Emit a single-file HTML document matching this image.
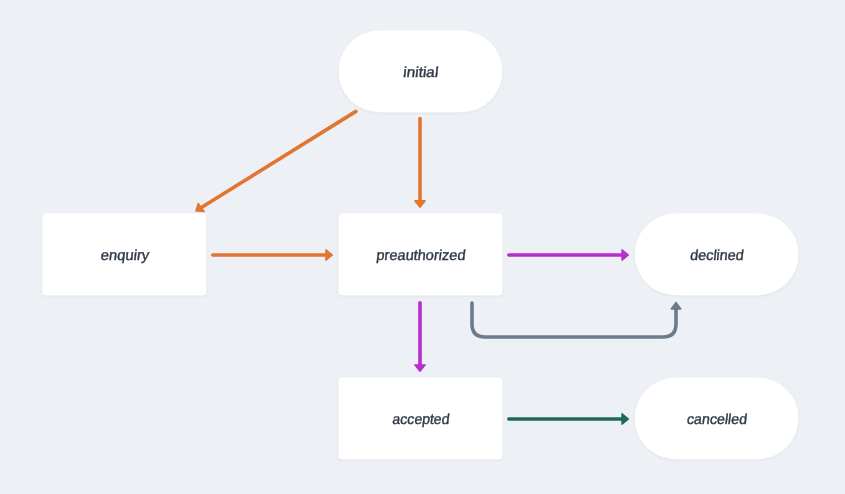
<!DOCTYPE html>
<html><head><meta charset="utf-8">
<style>
html,body{margin:0;padding:0;}
body{width:845px;height:494px;background:#edf0f5;overflow:hidden;}
svg{display:block;}
text{font-family:"Liberation Sans",sans-serif;font-size:14.6px;fill:#2f3a47;stroke:#2f3a47;stroke-width:0.4px;text-anchor:middle;}
</style></head><body>
<svg width="845" height="494" viewBox="0 0 845 494">
<defs>
<filter id="sh" x="-10%" y="-20%" width="120%" height="140%">
<feDropShadow dx="0" dy="1" stdDeviation="1.5" flood-color="#000" flood-opacity="0.06"/>
</filter>
<filter id="id"><feColorMatrix type="identity"/></filter>
</defs>
<g fill="#fff" filter="url(#sh)">
<rect x="338.6" y="30.6" width="163.8" height="81.6" rx="40.8"/>
<rect x="42.4" y="213.6" width="163.9" height="81.6" rx="3.5"/>
<rect x="338.6" y="213.6" width="163.8" height="81.6" rx="3.5"/>
<rect x="634.7" y="213.6" width="163.8" height="81.6" rx="40.8"/>
<rect x="338.6" y="377.6" width="163.8" height="81.6" rx="3.5"/>
<rect x="634.7" y="377.6" width="163.8" height="81.6" rx="40.8"/>
</g>
<g filter="url(#id)">
<text transform="translate(420.3,76.9) skewX(-6.5)" x="0" y="0" textLength="35" lengthAdjust="spacingAndGlyphs">initial</text>
<text transform="translate(124.5,259.7) skewX(-6.5)" x="0" y="0" textLength="48.4" lengthAdjust="spacingAndGlyphs">enquiry</text>
<text transform="translate(420.5,259.7) skewX(-6.5)" x="0" y="0" textLength="89" lengthAdjust="spacingAndGlyphs">preauthorized</text>
<text transform="translate(716.5,259.7) skewX(-6.5)" x="0" y="0" textLength="53.4" lengthAdjust="spacingAndGlyphs">declined</text>
<text transform="translate(420.5,423.7) skewX(-6.5)" x="0" y="0" textLength="56.9" lengthAdjust="spacingAndGlyphs">accepted</text>
<text transform="translate(716.5,423.7) skewX(-6.5)" x="0" y="0" textLength="60.1" lengthAdjust="spacingAndGlyphs">cancelled</text>
</g>
<g stroke-width="3.6" fill="none" stroke-linecap="round" stroke-linejoin="round">
<line x1="355.9" y1="111.4" x2="201" y2="207.8" stroke="#e27631"/>
<line x1="420" y1="118.5" x2="420" y2="201" stroke="#e27631"/>
<line x1="212.7" y1="255" x2="326" y2="255" stroke="#e27631"/>
<line x1="508.8" y1="255" x2="622" y2="255" stroke="#b82ecc"/>
<line x1="420" y1="302.7" x2="420" y2="365" stroke="#b82ecc"/>
<line x1="508.8" y1="419" x2="622" y2="419" stroke="#1b6a5a"/>
<path d="M472 303 V324 Q472 337 485 337 H663 Q676 337 676 324 V309" stroke="#6b7b8b"/>
</g>
<g stroke-width="1.4" stroke-linejoin="round">
<polygon points="420,207.2 414.8,200.8 425.2,200.8" fill="#e27631" stroke="#e27631"/>
<polygon points="332.4,255 325.9,249.8 325.9,260.2" fill="#e27631" stroke="#e27631"/>
<polygon points="628.4,255 622,249.8 622,260.2" fill="#b82ecc" stroke="#b82ecc"/>
<polygon points="420,371.3 414.8,364.9 425.2,364.9" fill="#b82ecc" stroke="#b82ecc"/>
<polygon points="628.4,419 622,413.8 622,424.2" fill="#1b6a5a" stroke="#1b6a5a"/>
<polygon points="676,302.4 671.2,309 680.8,309" fill="#6b7b8b" stroke="#6b7b8b"/>
<polygon points="195.9,211.0 198.2,203.3 204.2,211.5" fill="#e27631" stroke="#e27631"/>
</g>
</svg>
</body></html>
